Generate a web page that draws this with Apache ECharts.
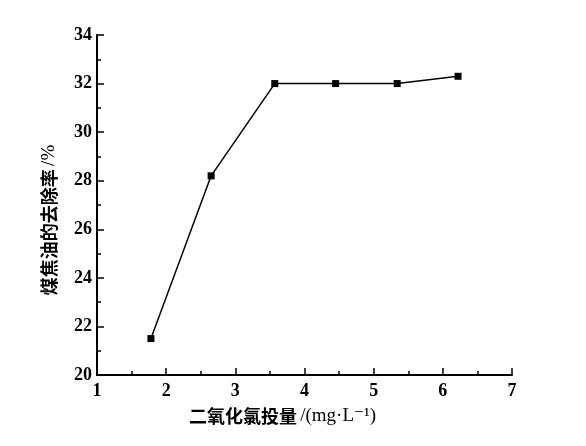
<!DOCTYPE html>
<html>

<head>
    <meta charset="utf-8">
    <title>ECharts</title>
    <script src="https://cdn.jsdelivr.net/npm/echarts@6.0.0/dist/echarts.min.js"></script>
</head>

<body style="margin:0;background:#fff;">
    <div id="chart" style="width: 586px; height: 446px;"></div>

    <script>
        // 二氧化氯投量 (mg/L)
        var dosage = [1.78, 2.65, 3.57, 4.45, 5.34, 6.22];
        // 煤焦油的去除率 (%)
        var removal = [21.5, 28.2, 32.0, 32.0, 32.0, 32.3];

        var points = dosage.map(function (x, i) {
            return [x, removal[i]];
        });

        var chart = echarts.init(document.getElementById('chart'));

        var serif = '"Liberation Serif", "DejaVu Serif", serif';
        var nameRich = {
            cn: { fontFamily: '"Noto Sans CJK SC"', fontWeight: 'bold', fontSize: 18, color: '#000' },
            en: { fontFamily: serif, fontSize: 19, color: '#000' }
        };

        var axisCommon = {
            axisLine: { show: true, onZero: false, lineStyle: { color: '#000', width: 2 } },
            axisTick: { show: true, inside: true, length: 7, lineStyle: { color: '#000', width: 1.5 } },
            minorTick: { show: true, splitNumber: 2, length: 4, lineStyle: { color: '#000', width: 1.5 } },
            splitLine: { show: false },
            axisLabel: {
                color: '#000',
                fontFamily: serif,
                fontWeight: 'bold',
                fontSize: 18
            }
        };

        var option = {
            animation: false,
            backgroundColor: '#fff',
            grid: { left: 97, right: 74, top: 35, bottom: 71, containLabel: false },
            xAxis: Object.assign({}, axisCommon, {
                type: 'value',
                min: 1,
                max: 7,
                interval: 1,
                name: '{cn|二氧化氯投量} {en|/(mg·L⁻¹)}',
                nameLocation: 'middle',
                nameGap: 32,
                nameTextStyle: { rich: nameRich, padding: [0, 44, 0, 0] },
                axisLabel: Object.assign({}, axisCommon.axisLabel, { margin: 7 })
            }),
            yAxis: Object.assign({}, axisCommon, {
                type: 'value',
                min: 20,
                max: 34,
                interval: 2,
                name: '{cn|煤焦油的去除率} {en|/%}',
                nameLocation: 'middle',
                nameGap: 38,
                nameTextStyle: { rich: nameRich, padding: [0, 30, 0, 0] },
                axisLabel: Object.assign({}, axisCommon.axisLabel, { margin: 5 })
            }),
            series: [{
                type: 'line',
                data: points,
                symbol: 'rect',
                symbolSize: 7,
                lineStyle: { color: '#000', width: 1.5 },
                itemStyle: { color: '#000' }
            }]
        };

        chart.setOption(option);
    </script>
</body>

</html>
